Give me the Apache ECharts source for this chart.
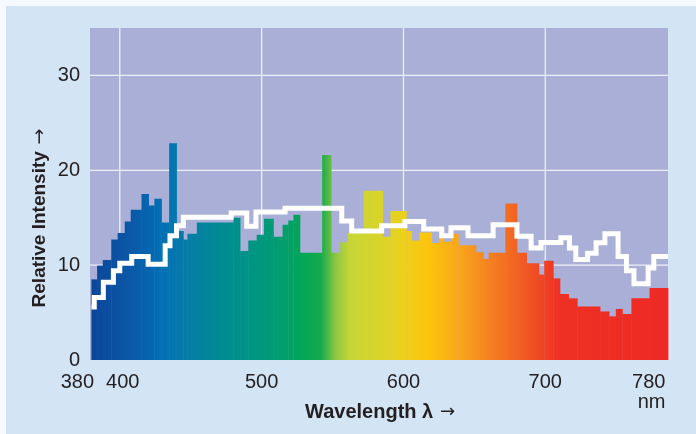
<!DOCTYPE html>
<html><head><meta charset="utf-8">
<script src="https://cdn.jsdelivr.net/npm/echarts@6/dist/echarts.min.js"></script>
<style>
html,body{margin:0;padding:0;background:#f6f9fd;}
#wrap{position:relative;width:696px;height:434px;overflow:hidden;}
#panel{position:absolute;left:6px;top:6px;width:690px;height:428px;background:#d3e4f5;}
#c{position:absolute;left:0;top:0;width:696px;height:434px;}
</style>
</head><body>
<div id="wrap"><div id="panel"></div><div id="c"></div></div>
<script>
// Spectrum bars: bin edges (nm) and relative intensity of each bin
const binEdges = [380, 384, 388, 394, 398.5, 403.5, 407.7, 415.3, 420.3, 424.4, 429.4, 434.8, 440, 444.8, 447.7, 454.3, 480.1, 484.8, 490.6, 496.5, 501.7, 508.3, 514.8, 518.8, 522.4, 527, 542.7, 549, 555.4, 560.5, 571.8, 585.4, 590.8, 602, 605.8, 611.2, 619.9, 625.3, 628.1, 634, 638.7, 651.1, 656.3, 660, 671.8, 680, 686.8, 695.5, 699.2, 705.6, 710.3, 716.5, 722.5, 738.6, 745, 749.7, 754.3, 760.7, 773.5, 786.5];
const intensity = [8.5, 9.95, 10.55, 12.7, 13.4, 14.6, 15.85, 17.5, 16.3, 17.0, 14.5, 22.85, 13.6, 12.7, 13.3, 14.5, 15.0, 11.5, 12.6, 13.2, 14.9, 13.0, 14.25, 14.7, 15.3, 11.3, 21.6, 11.3, 12.4, 13.4, 17.85, 13.0, 15.7, 13.6, 12.6, 13.45, 12.33, 12.9, 12.47, 13.3, 12.1, 11.35, 10.65, 11.3, 16.5, 11.3, 10.2, 9.0, 10.47, 8.6, 6.96, 6.5, 5.63, 5.12, 4.6, 5.38, 4.85, 6.52, 7.6];

// Reference curve (white step line): step edges (nm) and values
const refEdges = [380, 382, 388.4, 395.5, 400, 408.4, 420, 432, 435.4, 440, 444.8, 478.5, 489.5, 496, 516.5, 556.5, 563.5, 584.6, 601, 614.3, 627, 633.5, 645.5, 663.2, 680, 690, 697, 711, 717, 721.5, 729.8, 735.8, 742, 751.3, 757.2, 762.5, 772.5, 776.5, 786.5];
const refValues = [5.6, 6.6, 8.2, 9.4, 10.2, 10.9, 10.1, 12.05, 13.1, 14.16, 15.05, 15.5, 14.1, 15.6, 16.0, 14.65, 13.6, 14.15, 14.6, 13.8, 13.1, 13.95, 13.1, 14.25, 13.05, 11.8, 12.4, 12.9, 11.8, 10.6, 11.25, 12.35, 13.3, 10.9, 9.4, 8.05, 9.7, 10.9];

const xTickValues = [400, 500, 600, 700, 780];
const xStartTick = [380];
const yTickValues = [0, 10, 20, 30];
const xGridValues = [400, 500, 600, 700];
const yGridValues = [10, 20, 30];
const X_MIN = 379, X_MAX = 786.5, Y_MIN = 0, Y_MAX = 35;

// spectral colour stops by wavelength
const colorNm  = [380, 410, 430, 450, 480, 510, 530, 542, 552, 562, 580, 600, 618, 640, 665, 690, 710, 786.5];
const colorHex = ['#0b4699','#0a5aa8','#0270b5','#067ea4','#008f8d','#009c74','#05a655','#14ab4a','#8cc641','#c6d637','#d6d42c','#ecd01b','#fdc40c','#f8a51c','#f47a21','#f05224','#ee3024','#ee2a24'];

const barData = intensity.map((v, i) => [binEdges[i], binEdges[i + 1], v]);
const refData = refValues.map((v, i) => [refEdges[i], v]);
refData.push([refEdges[refEdges.length - 1], refValues[refValues.length - 1]]);
const gridData = xGridValues.map(v => [0, v]).concat(yGridValues.map(v => [1, v]));

const FONT = '"Liberation Sans", Arial, Helvetica, sans-serif';
const TXT = '#231f20';

const chart = echarts.init(document.getElementById('c'), null, {renderer: 'canvas'});

const baseX = {
  type: 'value', min: X_MIN, max: X_MAX, gridIndex: 0, position: 'bottom',
  axisLine: {show: false}, axisTick: {show: false}, splitLine: {show: false}
};

const option = {
  backgroundColor: 'transparent',
  animation: false,
  grid: {left: 90, top: 28, width: 578, height: 332, show: true, backgroundColor: '#a9afd6', borderWidth: 0},
  xAxis: [
    Object.assign({}, baseX, {
      axisLabel: {
        customValues: xTickValues, hideOverlap: false,
        fontSize: 20, color: TXT, fontFamily: FONT, margin: 12, lineHeight: 20,
        formatter: function (v) {
          if (v === 400) return '{b|400}';
          if (v === 780) return '{c|780}\n{c|nm}';
          return '{n|' + v + '}';
        },
        rich: {
          b: {fontSize: 20, color: TXT, fontFamily: FONT, padding: [0, 0, 0, 6], lineHeight: 20},
          c: {fontSize: 20, color: TXT, fontFamily: FONT, align: 'right', padding: [0, 20, 0, 0], lineHeight: 20},
          n: {fontSize: 20, color: TXT, fontFamily: FONT, lineHeight: 20}
        }
      }
    }),
    Object.assign({}, baseX, {
      axisLabel: {
        customValues: xStartTick, showMinLabel: true,
        fontSize: 20, color: TXT, fontFamily: FONT, margin: 12, lineHeight: 20,
        formatter: function (v) { return '{a|' + v + '}'; },
        rich: {a: {fontSize: 20, color: TXT, fontFamily: FONT, padding: [0, 28, 0, 0], lineHeight: 20}}
      }
    })
  ],
  yAxis: {
    type: 'value', min: Y_MIN, max: Y_MAX,
    axisLine: {show: false}, axisTick: {show: false}, splitLine: {show: false},
    axisLabel: {customValues: yTickValues, fontSize: 20, color: TXT, fontFamily: FONT, margin: 10, showMinLabel: true}
  },
  graphic: [
    {type: 'text', x: 40, y: 218, rotation: Math.PI / 2,
     style: {text: '{t|Relative Intensity}  {r|→}', align: 'center', verticalAlign: 'middle',
       rich: {t: {fontSize: 19, fontWeight: 'bold', fontFamily: FONT, fill: TXT},
              r: {fontSize: 19, fontFamily: '"DejaVu Sans", sans-serif', fill: TXT}}}},
    {type: 'text', x: 380, y: 412,
     style: {text: '{t|Wavelength λ}  {r|→}', align: 'center', verticalAlign: 'middle',
       rich: {t: {fontSize: 20, fontWeight: 'bold', fontFamily: FONT, fill: TXT},
              r: {fontSize: 18, fontFamily: '"DejaVu Sans", sans-serif', fill: TXT}}}}
  ],
  series: [
    {
      type: 'custom', z: 1, silent: true,
      data: gridData,
      renderItem: function (params, api) {
        const kind = api.value(0), v = api.value(1);
        let a, b;
        if (kind === 0) { a = api.coord([v, Y_MIN]); b = api.coord([v, Y_MAX]); }
        else { a = api.coord([X_MIN, v]); b = api.coord([X_MAX, v]); }
        return {type: 'line', shape: {x1: a[0], y1: a[1], x2: b[0], y2: b[1]},
                style: {stroke: '#eef0f8', lineWidth: 1.3}};
      }
    },
    {
      type: 'custom', z: 2, silent: true,
      data: barData,
      encode: {x: [0, 1], y: 2},
      renderItem: function (params, api) {
        const s = api.value(0), e = api.value(1), v = api.value(2);
        const p0 = api.coord([s, 0]);
        const p1 = api.coord([e, v]);
        const gx0 = api.coord([colorNm[0], 0])[0];
        const gx1 = api.coord([colorNm[colorNm.length - 1], 0])[0];
        const span = colorNm[colorNm.length - 1] - colorNm[0];
        const stops = colorNm.map((n, i) => ({offset: (n - colorNm[0]) / span, color: colorHex[i]}));
        return {
          type: 'rect',
          shape: {x: p0[0], y: p1[1], width: p1[0] - p0[0] + 0.4, height: p0[1] - p1[1]},
          style: {fill: new echarts.graphic.LinearGradient(gx0, 0, gx1, 0, stops, true)}
        };
      }
    },
    {
      type: 'line', z: 3, silent: true, step: 'end', symbol: 'none',
      data: refData,
      lineStyle: {color: '#ffffff', width: 5, join: 'miter', cap: 'butt'}
    }
  ]
};
chart.setOption(option);
</script>
</body></html>
